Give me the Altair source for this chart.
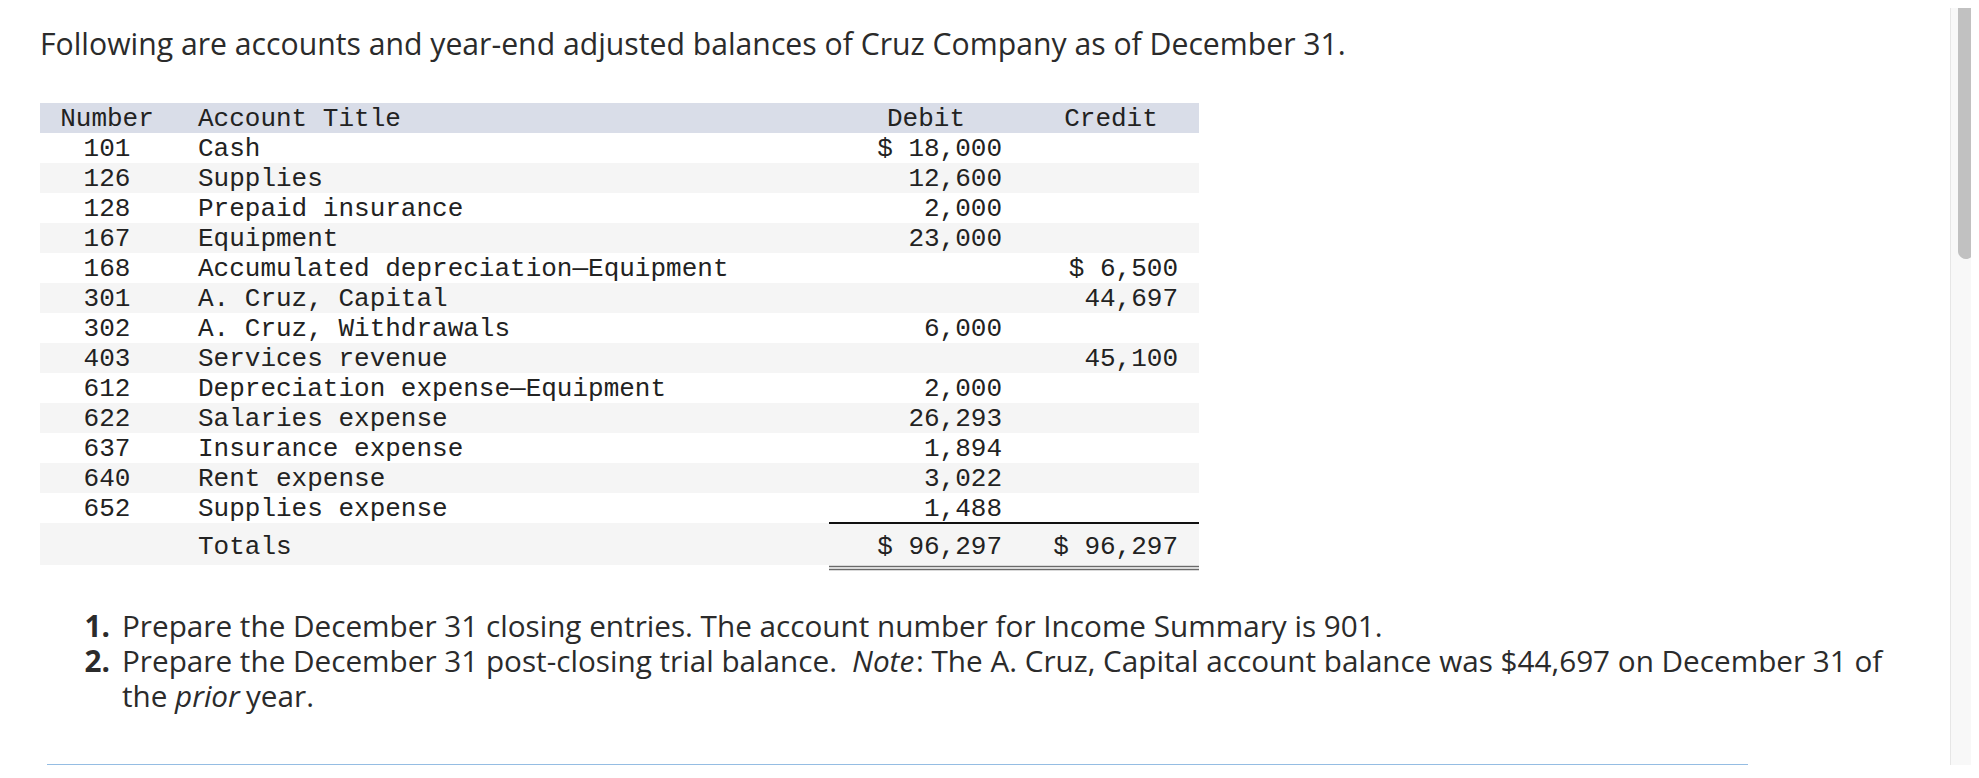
import altair as alt
import pandas as pd

# ---------------- data ----------------
title_text = "Following are accounts and year-end adjusted balances of Cruz Company as of December 31."
headers = ["Number", "Account Title", "Debit", "Credit"]
numbers = ["101", "126", "128", "167", "168", "301", "302", "403", "612", "622", "637", "640", "652"]
titles = [
    "Cash", "Supplies", "Prepaid insurance", "Equipment",
    "Accumulated depreciation\u2014Equipment", "A. Cruz, Capital", "A. Cruz, Withdrawals",
    "Services revenue", "Depreciation expense\u2014Equipment", "Salaries expense",
    "Insurance expense", "Rent expense", "Supplies expense",
]
debits = [18000, 12600, 2000, 23000, None, None, 6000, None, 2000, 26293, 1894, 3022, 1488]
credits = [None, None, None, None, 6500, 44697, None, 45100, None, None, None, None, None]
totals_label = "Totals"

markers = ["1.", "2."]
line1 = "Prepare the December 31 closing entries. The account number for Income Summary is 901."
line2_parts = ["Prepare the December 31 post-closing trial balance. ", "Note",
               ": The A. Cruz, Capital account balance was $44,697 on December 31 of"]
line3_parts = ["the ", "prior", " year."]


def money(vals):
    out, first = [], True
    for v in vals:
        if v is None:
            out.append("")
        else:
            s = f"{v:,}"
            out.append(("$ " + s) if first else s)
            first = False
    return out


total_debit = sum(v for v in debits if v is not None)
total_credit = sum(v for v in credits if v is not None)

rows = pd.DataFrame({
    "key": numbers,
    "num": numbers,
    "title": titles,
    "deb": money(debits),
    "cred": money(credits),
})
stripe_keys = ["hdr"] + numbers
stripe_fill = ["#d9dde8"] + ["#ffffff" if i % 2 == 0 else "#f5f5f5" for i in range(len(numbers))]
stripes = pd.DataFrame({"key": stripe_keys, "fill": stripe_fill})
hdr = pd.DataFrame({"key": ["hdr"], "n": [headers[0]], "t": [headers[1]], "d": [headers[2]], "c": [headers[3]]})

# ---------------- styles ----------------
MONO = "Liberation Mono"
MS = 26
INK = "#222222"
SANS = "Open Sans"
TS = 30.2
PS = 29.7
PINK = "#2b2b2b"

yscale = alt.Scale(type="band", domain=stripe_keys, range=[95, 515], paddingInner=0, paddingOuter=0)
Y = alt.Y("key:N", scale=yscale, axis=None)


def mono_layer(df, field, x, align):
    return alt.Chart(df).mark_text(
        align=align, baseline="middle", font=MONO, fontSize=MS, color=INK
    ).encode(y=Y, x=alt.value(x), text=f"{field}:N")


def one_text(s, x, y, size, align="left", weight="normal", style="normal", font=SANS, color=PINK, baseline="alphabetic"):
    return alt.Chart(pd.DataFrame({"t": [s]})).mark_text(
        align=align, baseline=baseline, font=font, fontSize=size,
        fontWeight=weight, fontStyle=style, color=color
    ).encode(text="t:N", x=alt.value(x), y=alt.value(y))


layers = []

# stripes
layers.append(alt.Chart(stripes).mark_rect().encode(
    y=Y, x=alt.value(32), x2=alt.value(1191), color=alt.Color("fill:N", scale=None)))
# totals band
layers.append(alt.Chart(pd.DataFrame({"k": ["tot"]})).mark_rect(color="#f5f5f5").encode(
    x=alt.value(32), x2=alt.value(1191), y=alt.value(515), y2=alt.value(557)))

# header texts
layers.append(mono_layer(hdr, "n", 99, "center"))
layers.append(mono_layer(hdr, "t", 190, "left"))
layers.append(mono_layer(hdr, "d", 918, "center"))
layers.append(mono_layer(hdr, "c", 1103, "center"))

# body texts
layers.append(mono_layer(rows, "num", 99, "center"))
layers.append(mono_layer(rows, "title", 190, "left"))
layers.append(mono_layer(rows, "deb", 994, "right"))
layers.append(mono_layer(rows, "cred", 1170, "right"))

# totals
layers.append(one_text(totals_label, 190, 538, MS, font=MONO, color=INK, baseline="middle"))
layers.append(one_text("$ " + f"{total_debit:,}", 994, 538, MS, align="right", font=MONO, color=INK, baseline="middle"))
layers.append(one_text("$ " + f"{total_credit:,}", 1170, 538, MS, align="right", font=MONO, color=INK, baseline="middle"))

# rules
layers.append(alt.Chart(pd.DataFrame({"k": [0]})).mark_rule(color="#111111", strokeWidth=2).encode(
    x=alt.value(821), x2=alt.value(1191), y=alt.value(515)))
layers.append(alt.Chart(pd.DataFrame({"k": [0]})).mark_rule(color="#6a6a6a", strokeWidth=1.5).encode(
    x=alt.value(821), x2=alt.value(1191), y=alt.value(558.5)))
layers.append(alt.Chart(pd.DataFrame({"k": [0]})).mark_rule(color="#6a6a6a", strokeWidth=1.5).encode(
    x=alt.value(821), x2=alt.value(1191), y=alt.value(561.5)))

# title
layers.append(one_text(title_text, 32, 47, TS))

# instructions
layers.append(one_text(markers[0], 102, 629, PS, align="right", weight="bold"))
layers.append(one_text(line1, 114, 629, PS))
layers.append(one_text(markers[1], 102, 664, PS, align="right", weight="bold"))
layers.append(one_text(line2_parts[0], 114, 664, PS))
layers.append(one_text(line2_parts[1], 844, 664, PS, style="italic"))
layers.append(one_text(line2_parts[2], 908, 664, PS))
layers.append(one_text(line3_parts[0], 114, 699, PS))
layers.append(one_text(line3_parts[1], 167, 699, PS, style="italic"))
layers.append(one_text(line3_parts[2], 238, 699, PS))

# bottom answer box (top edge)
layers.append(alt.Chart(pd.DataFrame({"k": [0]})).mark_rect(
    color="#e8f1fb", stroke="#95bde3", strokeWidth=2).encode(
    x=alt.value(40), x2=alt.value(1739), y=alt.value(757), y2=alt.value(790)))

# scrollbar
layers.append(alt.Chart(pd.DataFrame({"k": [0]})).mark_rect(color="#f8f8f8").encode(
    x=alt.value(1942), x2=alt.value(1975), y=alt.value(-10), y2=alt.value(790)))
layers.append(alt.Chart(pd.DataFrame({"k": [0]})).mark_rule(color="#e6e6e6", strokeWidth=1).encode(
    x=alt.value(1942.5), y=alt.value(-10), y2=alt.value(790)))
layers.append(alt.Chart(pd.DataFrame({"k": [0]})).mark_rect(color="#c1c1c1", cornerRadius=8).encode(
    x=alt.value(1950), x2=alt.value(1966), y=alt.value(-30), y2=alt.value(251)))

chart = alt.layer(*layers).properties(
    width=1963, height=757, padding=0,
    autosize=alt.AutoSizeParams(type="none"),
    background="white",
).configure_view(stroke=None)

chart.save("out.html", embed_options={"renderer": "svg", "actions": False})
